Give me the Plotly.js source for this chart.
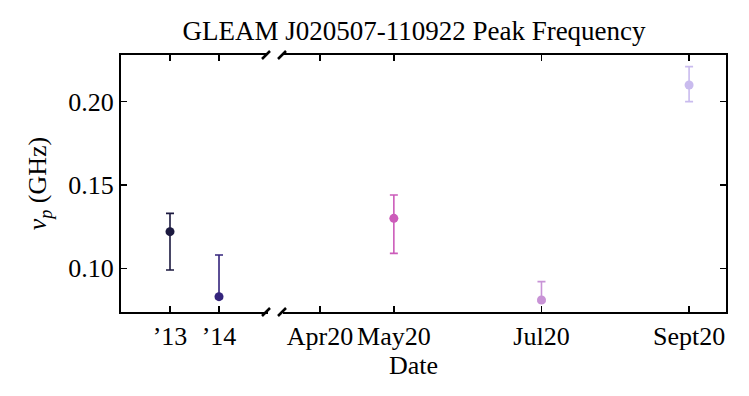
<!DOCTYPE html>
<html>
<head>
<meta charset="utf-8">
<script src="https://cdn.plot.ly/plotly-3.0.1.min.js"></script>
<style>
  html, body { margin: 0; padding: 0; background: #fff; }
  #chart { width: 749px; height: 396px; }
</style>
</head>
<body>
<div id="chart"></div>
<script>
// ---- early epochs (GLEAM years) ----
const earlyYears = [2013, 2014];
const earlyLabels = ["\u201913", "\u201914"];
const earlyPeak = [0.122, 0.083];
const earlyErrPlus = [0.011, 0.025];
const earlyErrMinus = [0.023, 0.001];
const earlyColors = ["#1c1a40", "#34247c"];

// ---- 2020 epochs (month number) ----
const lateTicks = [4, 5, 7, 9];
const lateLabels = ["Apr20", "May20", "Jul20", "Sept20"];
const lateMonths = [5, 7, 9];
const latePeak = [0.130, 0.081, 0.210];
const lateErrPlus = [0.014, 0.011, 0.011];
const lateErrMinus = [0.021, 0.001, 0.010];
const lateColors = ["#cc5cba", "#c893d6", "#c9bbee"];

const yTicks = [0.10, 0.15, 0.20];

const FONT = "'Liberation Serif', 'Times New Roman', serif";
const FS = 26;
const traces = [];

function addPoints(xs, ys, up, down, cols, xa, ya) {
  xs.forEach((x, i) => {
    traces.push({
      x: [x], y: [ys[i]],
      xaxis: xa, yaxis: ya,
      type: "scatter", mode: "markers",
      marker: { color: cols[i], size: 9 },
      error_y: {
        type: "data", symmetric: false,
        array: [up[i]], arrayminus: [down[i]],
        color: cols[i], thickness: 1.6, width: 4
      },
      showlegend: false, hoverinfo: "x+y"
    });
  });
}
addPoints(earlyYears, earlyPeak, earlyErrPlus, earlyErrMinus, earlyColors, "x", "y");
addPoints(lateMonths, latePeak, lateErrPlus, lateErrMinus, lateColors, "x2", "y2");

const W = 605, H = 257;   // plot area in px
function slash(px, py) {
  const cx = (px - 121) / W, cy = (312 - py) / H;
  return {
    type: "line", xref: "paper", yref: "paper",
    x0: cx - 4 / W, y0: cy - 4 / H, x1: cx + 4 / W, y1: cy + 4 / H,
    line: { color: "#000", width: 2.5 }
  };
}

const axisCommon = {
  showline: true, linecolor: "#000", linewidth: 2,
  ticks: "inside", ticklen: 6, tickwidth: 1.3, tickcolor: "#000",
  showgrid: false, zeroline: false,
  tickfont: { family: FONT, size: FS, color: "#000" }
};

const layout = {
  width: 749, height: 396,
  paper_bgcolor: "#fff", plot_bgcolor: "#fff",
  margin: { l: 121, r: 23, t: 55, b: 84 },
  font: { family: FONT, color: "#000", size: FS },
  title: {
    text: "GLEAM J020507-110922 Peak Frequency",
    font: { family: FONT, size: 27, color: "#000" },
    x: 414 / 749, xanchor: "center", y: 0.922, yanchor: "middle"
  },
  xaxis: Object.assign({}, axisCommon, {
    domain: [0, 0.243], range: [2012, 2015], anchor: "y",
    mirror: "ticks", tickvals: earlyYears, ticktext: earlyLabels
  }),
  xaxis2: Object.assign({}, axisCommon, {
    domain: [0.268, 1], range: [3.5, 9.5], anchor: "y2",
    mirror: "ticks", tickvals: lateTicks, ticktext: lateLabels
  }),
  yaxis: Object.assign({}, axisCommon, {
    domain: [0, 1], range: [0.0738, 0.228], anchor: "x", side: "left",
    tickvals: yTicks, tickformat: ".2f",
    title: {
      text: "<i>\u03bd</i><sub><i>p</i></sub> (GHz)",
      font: { family: FONT, size: FS, color: "#000" }, standoff: 14
    }
  }),
  yaxis2: Object.assign({}, axisCommon, {
    domain: [0, 1], range: [0.0738, 0.228], anchor: "x2", side: "right",
    matches: "y", tickvals: yTicks, showticklabels: false
  }),
  annotations: [{
    text: "Date", xref: "paper", yref: "paper",
    x: (413 - 121) / W, y: (312 - 365) / H,
    showarrow: false, xanchor: "center", yanchor: "middle",
    font: { family: FONT, size: FS, color: "#000" }
  }],
  shapes: [slash(266, 55), slash(282, 55), slash(266, 312), slash(282, 312)]
};

Plotly.newPlot("chart", traces, layout, { displayModeBar: false, staticPlot: true });
</script>
</body>
</html>
